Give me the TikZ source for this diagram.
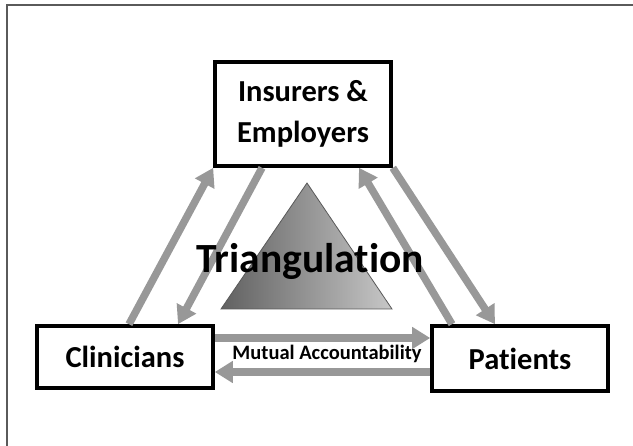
\documentclass[tikz,border=0pt]{standalone}
\usepackage{fontspec}
\setmainfont{Carlito}[Ligatures=NoCommon]
\usepackage{tikz}
\usetikzlibrary{arrows.meta}
\definecolor{arrowGray}{RGB}{152,152,152}
\definecolor{frameGray}{RGB}{90,90,90}
\tikzstyle{canvas} = [x = 1pt, y = -1pt]
\tikzstyle{partyBox} = [draw=black, line width=3.6pt, fill=white, align=center, font=\fontsize{30.5}{41}\selectfont\bfseries, inner sep=0pt]
\tikzstyle{flowArrow} = [draw=arrowGray, line width=7.5pt, -{Triangle[width=21pt, length=18pt]}]
\tikzstyle{frameLine} = [draw=frameGray, line width=1.6pt]
\newcommand{\flow}[2]{\draw [flowArrow] #1 -- #2;}

\begin{document}
\begin{tikzpicture}[canvas]
  \useasboundingbox (0,0) rectangle (633,446);
  \draw [frameLine] (6,5) -- (633,5);
  \draw [frameLine] (7,5) -- (7,446);

  \node [partyBox, minimum width=176pt, minimum height=104pt] (ins) at (303,114) {Insurers \&\\Employers};
  \node [partyBox, minimum width=176pt, minimum height=62pt] (cli) at (125,357) {Clinicians};
  \node [partyBox, minimum width=176pt, minimum height=65pt] (pat) at (520,358.5) {Patients};

  \shade [shading angle=60, left color=black!62, right color=black!22, draw=black!65, line width=0.8pt] (307,183) -- (221,309) -- (392,309) -- cycle;

  \flow{([xshift=4pt]cli.north)}{(ins.south west)}
  \flow{([xshift=-41pt]ins.south)}{([xshift=53pt]cli.north)}
  \flow{([xshift=-68pt]pat.north)}{([xshift=56pt]ins.south)}
  \flow{(ins.south east)}{([xshift=-25pt]pat.north)}
  \flow{([yshift=19pt]cli.east)}{([yshift=20.5pt]pat.west)}
  \flow{([yshift=-13.5pt]pat.west)}{([yshift=-15pt]cli.east)}

  \node [font=\fontsize{41.5}{48}\selectfont\bfseries] (tri) at (310,261) {Triangulation};
  \node [font=\fontsize{20.5}{24}\selectfont\bfseries] (mutual) at (327,354) {Mutual Accountability};
\end{tikzpicture}
\end{document}
